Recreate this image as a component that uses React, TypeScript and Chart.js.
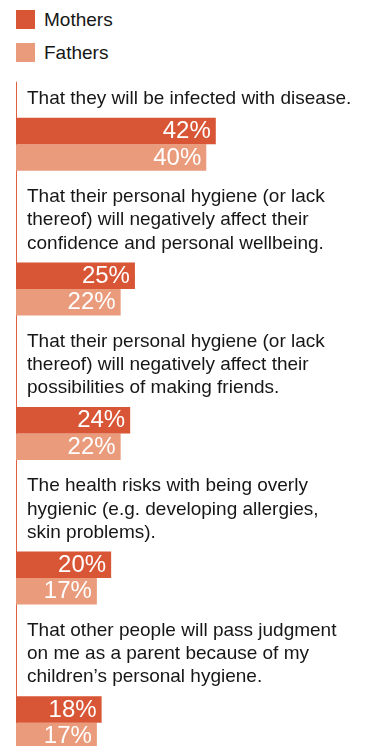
import React, { useEffect, useRef } from "react";
import { Chart, registerables } from "chart.js";

Chart.register(...registerables);

// ---- data ----
const categories: string[][] = [
  ["That they will be infected with disease."],
  [
    "That their personal hygiene (or lack",
    "thereof) will negatively affect their",
    "confidence and personal wellbeing.",
  ],
  [
    "That their personal hygiene (or lack",
    "thereof) will negatively affect their",
    "possibilities of making friends.",
  ],
  [
    "The health risks with being overly",
    "hygienic (e.g. developing allergies,",
    "skin problems).",
  ],
  [
    "That other people will pass judgment",
    "on me as a parent because of my",
    "children’s personal hygiene.",
  ],
];
const seriesNames = ["Mothers", "Fathers"];
const mothers = [42, 25, 24, 20, 18];
const fathers = [40, 22, 22, 17, 17];

// ---- styles ----
const seriesColors = ["#D85535", "#E99B7C"];
const axisColor = "#E0603F";
const textColor = "#161616";
const FONT = "'Liberation Sans', Arial, Helvetica, sans-serif";
const LABEL_GAP = 19;
const LINE_H = 23.3;

function labelLineY(bar: any, n: number, j: number) {
  const top = bar.y - bar.height / 2;
  return top - LABEL_GAP - (n - 1 - j) * LINE_H;
}

const labelPlugin = {
  id: "catLabels",
  beforeDatasetsDraw(chart: any) {
    // axis line: starts just above the first category label
    const ctx = chart.ctx as CanvasRenderingContext2D;
    const meta0 = chart.getDatasetMeta(0);
    const first = meta0.data[0] as any;
    const n0 = (chart.data.labels[0] as string[]).length;
    const yStart = labelLineY(first, n0, 0) - 17;
    const x = Math.round(chart.chartArea.left) + 0.5;
    ctx.save();
    ctx.strokeStyle = axisColor;
    ctx.lineWidth = 1;
    ctx.beginPath();
    ctx.moveTo(x, yStart);
    ctx.lineTo(x, chart.chartArea.bottom);
    ctx.stroke();
    ctx.restore();
  },
  afterDatasetsDraw(chart: any) {
    const ctx = chart.ctx as CanvasRenderingContext2D;
    const meta0 = chart.getDatasetMeta(0);
    const left = chart.chartArea.left;
    ctx.save();
    // category labels above bars
    ctx.font = `19px ${FONT}`;
    ctx.fillStyle = textColor;
    ctx.textAlign = "left";
    ctx.textBaseline = "middle";
    (chart.data.labels as string[][]).forEach((lines, i) => {
      const bar = meta0.data[i] as any;
      const n = lines.length;
      lines.forEach((line, j) => {
        ctx.fillText(line, left + 11, labelLineY(bar, n, j));
      });
    });
    // values inside bars
    ctx.font = `24px ${FONT}`;
    ctx.fillStyle = "#ffffff";
    ctx.textAlign = "right";
    chart.data.datasets.forEach((ds: any, di: number) => {
      const meta = chart.getDatasetMeta(di);
      meta.data.forEach((el: any, i: number) => {
        ctx.fillText(`${ds.data[i]}%`, el.x - 5, el.y + 0.5);
      });
    });
    ctx.restore();
  },
};

export default function App() {
  const ref = useRef<HTMLCanvasElement>(null);

  useEffect(() => {
    if (!ref.current) return;
    const chart = new Chart(ref.current, {
      type: "bar",
      data: {
        labels: categories as any,
        datasets: [
          {
            label: seriesNames[0],
            data: mothers,
            backgroundColor: seriesColors[0],
            borderWidth: 0,
            categoryPercentage: 0.3668,
            barPercentage: 1,
          },
          {
            label: seriesNames[1],
            data: fathers,
            backgroundColor: seriesColors[1],
            borderWidth: 0,
            categoryPercentage: 0.3668,
            barPercentage: 1,
          },
        ],
      },
      options: {
        animation: false,
        responsive: true,
        maintainAspectRatio: false,
        devicePixelRatio: 1,
        indexAxis: "y",
        layout: { padding: { left: 8, right: 10, top: 0, bottom: 0 } },
        plugins: {
          legend: { display: false },
          tooltip: { enabled: false },
        },
        scales: {
          x: { display: false, min: 0, max: 70 },
          y: {
            display: true,
            ticks: { display: false },
            grid: { display: false, drawTicks: false },
            border: { display: false },
          },
        },
      },
      plugins: [labelPlugin],
    } as any);
    return () => chart.destroy();
  }, []);

  return (
    <div style={{ fontFamily: FONT }}>
      <div
        style={{
          height: 64,
          paddingLeft: 8,
          paddingTop: 2,
          boxSizing: "border-box",
        }}
      >
        {seriesNames.map((n, i) => (
          <div
            key={n}
            style={{
              display: "flex",
              alignItems: "center",
              height: 19,
              marginBottom: 14,
            }}
          >
            <span
              style={{
                display: "inline-block",
                width: 19,
                height: 19,
                background: seriesColors[i],
                marginRight: 9,
              }}
            />
            <span style={{ fontSize: 19, lineHeight: "19px", color: textColor }}>
              {n}
            </span>
          </div>
        ))}
      </div>
      <div style={{ position: "relative", height: 723 }}>
        <canvas ref={ref} />
      </div>
    </div>
  );
}
